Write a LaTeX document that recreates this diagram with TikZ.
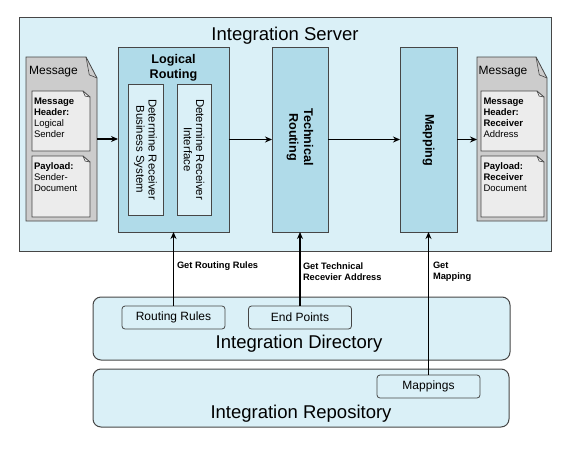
\documentclass[tikz,border=0pt]{standalone}
\usepackage{fontspec}
\setmainfont{Liberation Sans}
\usetikzlibrary{arrows.meta}

\definecolor{serverblue}{RGB}{218,240,247}
\definecolor{stageblue}{RGB}{176,219,233}
\definecolor{msggray}{RGB}{204,204,204}
\definecolor{docgray}{RGB}{236,236,236}
\definecolor{edgegray}{RGB}{70,70,70}

\tikzset{
  every node/.style={inner sep=0pt, outer sep=0pt},
  layer/.style={rectangle, draw=edgegray, fill=serverblue, line width=1pt},
  stage/.style={rectangle, draw=edgegray, fill=stageblue, line width=0.8pt},
  subtask/.style={rectangle, draw=edgegray, fill=serverblue, line width=0.8pt, rotate=-90, align=center,
    font=\fontsize{11.4}{12.2}\selectfont},
  store/.style={rectangle, rounded corners=3pt, draw=edgegray, fill=serverblue, line width=0.8pt,
    minimum width=103pt, minimum height=23pt, font=\fontsize{12}{14}\selectfont},
  frame/.style={rectangle},
  bigtitle/.style={font=\fontsize{18.5}{20}\selectfont, anchor=base},
  stagetitle/.style={align=center, font=\bfseries\fontsize{12.6}{14.8}\selectfont},
  msgtitle/.style={font=\fontsize{12}{14}\selectfont},
  doctext/.style={align=left, anchor=north west, font=\fontsize{9.5}{10.9}\selectfont},
  getlabel/.style={align=left, anchor=west, font=\bfseries\fontsize{9.3}{11}\selectfont},
  flow/.style={-{Stealth[length=7pt,width=6pt]}, line width=1.3pt, black}
}

% Umriss mit Eselsohr: Knoten, Breite, Hoehe der Falte, Fuellung
\newcommand{\docfold}[4]{%
  \filldraw[fill=#4, draw=edgegray, line width=0.8pt] (#1.north west) -- ([xshift=-#2]#1.north east)
    -- ([yshift=-#3]#1.north east) -- (#1.south east) -- (#1.south west) -- cycle;
  \draw[edgegray, line width=0.6pt] ([xshift=-#2]#1.north east) -- ([xshift=-0.7*#2, yshift=-0.85*#3]#1.north east)
    -- ([yshift=-#3]#1.north east);
}

\begin{document}
\begin{tikzpicture}[x=1pt, y=-1pt]
  \useasboundingbox (0,0) rectangle (567,450);

  % Integration Server
  \node[layer, minimum width=532pt, minimum height=234pt] (server) at (285,134) {};
  \node[bigtitle] (servertitle) at (285,40) {Integration Server};

  % Nachricht links
  \node[frame, minimum width=71pt, minimum height=164pt] (msgL) at (61.5,139) {};
  \docfold{msgL}{11pt}{21pt}{msggray}
  \node[msgtitle] (msgLtitle) at (53.5,72) {Message};
  \node[frame, minimum width=58pt, minimum height=60pt] (docLa) at (61,121) {};
  \docfold{docLa}{7pt}{6pt}{docgray}
  \node[doctext] (docLatext) at ([xshift=2pt, yshift=-7pt]docLa.north west)
    {\textbf{Message}\\\textbf{Header:}\\Logical\\Sender};
  \node[frame, minimum width=58pt, minimum height=61pt] (docLb) at (61,186.5) {};
  \docfold{docLb}{7pt}{6pt}{docgray}
  \node[doctext] (docLbtext) at ([xshift=2pt, yshift=-7pt]docLb.north west)
    {\textbf{Payload:}\\Sender-\\Document};

  % Logical Routing
  \node[stage, minimum width=111pt, minimum height=185pt] (logical) at (173.5,139.5) {};
  \node[stagetitle] (logicaltitle) at (173.5,67.5) {Logical\\Routing};
  \node[subtask, minimum width=131pt, minimum height=35pt] (bizsys) at (145.5,149.5)
    {Determine Receiver\\Business System};
  \node[subtask, minimum width=131pt, minimum height=34pt] (iface) at (194,149.5)
    {Determine Receiver\\Interface};

  % Technical Routing
  \node[stage, minimum width=56pt, minimum height=185pt] (tech) at (300,139.5) {};
  \node[stagetitle, rotate=-90] (techtitle) at (300,137) {Technical\\Routing};

  % Mapping
  \node[stage, minimum width=57pt, minimum height=185pt] (mapping) at (428.5,139.5) {};
  \node[stagetitle, rotate=-90] (mappingtitle) at (428.5,140) {Mapping};

  % Nachricht rechts
  \node[frame, minimum width=70pt, minimum height=164pt] (msgR) at (512,139) {};
  \docfold{msgR}{11pt}{21pt}{msggray}
  \node[msgtitle] (msgRtitle) at (503,72) {Message};
  \node[frame, minimum width=63pt, minimum height=60pt] (docRa) at (512.5,121) {};
  \docfold{docRa}{7pt}{6pt}{docgray}
  \node[doctext] (docRatext) at ([xshift=2.5pt, yshift=-7pt]docRa.north west)
    {\textbf{Message}\\\textbf{Header:}\\\textbf{Receiver}\\Address};
  \node[frame, minimum width=63pt, minimum height=61pt] (docRb) at (512.5,186.5) {};
  \docfold{docRb}{7pt}{6pt}{docgray}
  \node[doctext] (docRbtext) at ([xshift=2.5pt, yshift=-7pt]docRb.north west)
    {\textbf{Payload:}\\\textbf{Receiver}\\Document};

  % Integration Directory
  \node[layer, rounded corners=8pt, minimum width=417pt, minimum height=63pt] (directory) at (301.5,328.5) {};
  \node[bigtitle] (directorytitle) at (299,348.5) {Integration Directory};
  \node[store] (rules) at (173.5,317.5) {Routing Rules};
  \node[store] (endpoints) at (300,317.5) {End Points};

  % Integration Repository
  \node[layer, rounded corners=8pt, minimum width=416pt, minimum height=58pt] (repository) at (301,398) {};
  \node[bigtitle] (repositorytitle) at (301,418.5) {Integration Repository};
  \node[store] (mappings) at (428.5,386.5) {Mappings};

  % Nachrichtenfluss
  \draw[flow] (msgL.east) -- (msgL.east -| logical.west);
  \draw[flow] (logical.east) -- (tech.west);
  \draw[flow] (tech.east) -- (mapping.west);
  \draw[flow] (mapping.east) -- (mapping.east -| msgR.west);

  % Abfragen
  \draw[flow] (rules.north) -- (logical.south);
  \draw[flow] (endpoints.north) -- (tech.south);
  \draw[flow] (mappings.north) -- (mapping.south);

  \node[getlabel] (getrules) at (177,266) {Get Routing Rules};
  \node[getlabel] (getaddress) at (303,271.5) {Get Technical\\Recevier Address};
  \node[getlabel] (getmapping) at (433,271.5) {Get\\Mapping};
\end{tikzpicture}
\end{document}
